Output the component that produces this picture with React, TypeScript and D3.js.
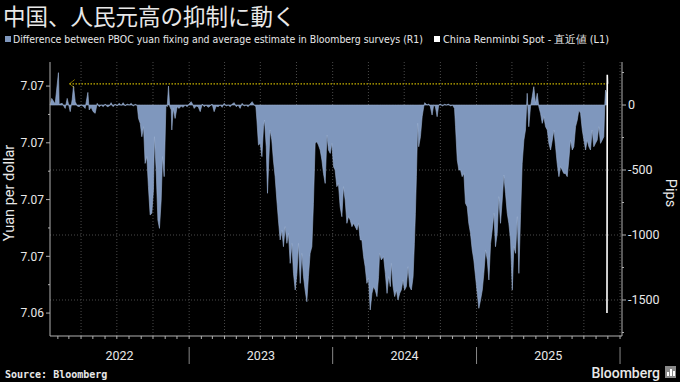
import React from "react";
import * as d3 from "d3";

// ---------- DATA ----------
// Difference between PBOC fixing and survey estimate (pips), time as decimal year
const pipsTime: number[] = [
  2022.031, 2022.042, 2022.066, 2022.089, 2022.094, 2022.115, 2022.136, 2022.150, 2022.171, 2022.185,
  2022.194, 2022.206, 2022.220, 2022.233, 2022.247, 2022.261, 2022.275, 2022.294, 2022.303, 2022.317,
  2022.331, 2022.345, 2022.359, 2022.373, 2022.387, 2022.401, 2022.415, 2022.429, 2022.443, 2022.456,
  2022.470, 2022.484, 2022.498, 2022.512, 2022.526, 2022.540, 2022.554, 2022.568, 2022.582, 2022.596,
  2022.610, 2022.624, 2022.638, 2022.647, 2022.659, 2022.670, 2022.682, 2022.693, 2022.705, 2022.716,
  2022.728, 2022.740, 2022.751, 2022.758, 2022.770, 2022.782, 2022.793, 2022.805, 2022.814, 2022.826,
  2022.838, 2022.847, 2022.856, 2022.864, 2022.875, 2022.879, 2022.889, 2022.902, 2022.916, 2022.930,
  2022.944, 2022.958, 2022.972, 2022.986, 2023.000, 2023.014, 2023.021, 2023.035, 2023.049, 2023.063,
  2023.077, 2023.091, 2023.105, 2023.118, 2023.132, 2023.146, 2023.160, 2023.174, 2023.188, 2023.202,
  2023.216, 2023.230, 2023.244, 2023.258, 2023.272, 2023.286, 2023.300, 2023.314, 2023.328, 2023.341,
  2023.355, 2023.369, 2023.383, 2023.397, 2023.411, 2023.425, 2023.439, 2023.453, 2023.465, 2023.472,
  2023.483, 2023.495, 2023.507, 2023.518, 2023.525, 2023.537, 2023.546, 2023.555, 2023.564, 2023.576,
  2023.587, 2023.599, 2023.611, 2023.622, 2023.634, 2023.646, 2023.657, 2023.669, 2023.681, 2023.692,
  2023.704, 2023.716, 2023.727, 2023.739, 2023.751, 2023.762, 2023.774, 2023.785, 2023.797, 2023.808,
  2023.820, 2023.831, 2023.843, 2023.855, 2023.866, 2023.878, 2023.890, 2023.901, 2023.913, 2023.925,
  2023.936, 2023.948, 2023.960, 2023.971, 2023.983, 2023.994, 2024.006, 2024.017, 2024.029, 2024.040,
  2024.052, 2024.064, 2024.075, 2024.087, 2024.099, 2024.110, 2024.122, 2024.134, 2024.145, 2024.157,
  2024.169, 2024.180, 2024.192, 2024.203, 2024.215, 2024.226, 2024.238, 2024.249, 2024.261, 2024.273,
  2024.284, 2024.296, 2024.308, 2024.319, 2024.326, 2024.338, 2024.354, 2024.366, 2024.378, 2024.389,
  2024.401, 2024.408, 2024.420, 2024.431, 2024.443, 2024.454, 2024.466, 2024.477, 2024.489, 2024.500,
  2024.512, 2024.524, 2024.535, 2024.547, 2024.559, 2024.568, 2024.575, 2024.582, 2024.591, 2024.598,
  2024.610, 2024.622, 2024.633, 2024.640, 2024.656, 2024.668, 2024.679, 2024.691, 2024.702, 2024.714,
  2024.726, 2024.737, 2024.749, 2024.763, 2024.777, 2024.791, 2024.805, 2024.819, 2024.833, 2024.847,
  2024.854, 2024.866, 2024.877, 2024.889, 2024.900, 2024.912, 2024.923, 2024.935, 2024.946, 2024.958,
  2024.970, 2024.981, 2024.993, 2025.005, 2025.016, 2025.028, 2025.040, 2025.051, 2025.063, 2025.075,
  2025.086, 2025.098, 2025.109, 2025.121, 2025.132, 2025.144, 2025.155, 2025.167, 2025.179, 2025.190,
  2025.202, 2025.214, 2025.225, 2025.237, 2025.249, 2025.260, 2025.272, 2025.284, 2025.295, 2025.307,
  2025.318, 2025.330, 2025.341, 2025.353, 2025.364, 2025.376, 2025.388, 2025.399, 2025.411, 2025.423,
  2025.434, 2025.446, 2025.458, 2025.469, 2025.481, 2025.493, 2025.504, 2025.516, 2025.528, 2025.539,
  2025.551, 2025.562, 2025.574, 2025.585, 2025.597, 2025.608, 2025.620, 2025.632, 2025.643, 2025.655,
  2025.667, 2025.678, 2025.690, 2025.702, 2025.713, 2025.725, 2025.737, 2025.748, 2025.760, 2025.771,
  2025.783, 2025.794, 2025.806, 2025.817, 2025.829, 2025.841, 2025.852, 2025.864, 2025.876, 2025.887,
  2025.894, 2025.899, 2025.906,
];
const pipsValues: number[] = [
  0, 51, 8, 249, 5, 13, -26, 51, -51, 44,
  146, 26, -8, -13, 0, -8, -26, 97, -38, -18,
  -51, -64, 13, -13, 0, -13, 8, -13, -8, 18,
  -13, 8, -8, 13, -3, 18, -8, 8, 0, 13,
  -8, 5, -3, -103, -141, -244, -167, -449, -397, -628,
  -846, -833, -654, -244, -500, -885, -949, -731, -397, -551,
  0, -13, 146, -8, -38, -192, -26, -103, -13, -26,
  -8, -18, 0, -13, 8, 26, 13, -26, -8, -13,
  -51, 8, -13, 0, -18, -8, 8, -51, -8, -13,
  0, -18, 13, -8, 0, -13, 8, 18, -13, 0,
  -26, 13, -8, 0, -13, 8, 26, 0, -13, -115,
  -308, -295, -397, -167, -115, -321, -679, -423, -192, -269,
  -423, -551, -731, -885, -1038, -962, -1090, -936, -1064, -987,
  -1218, -1064, -1295, -1423, -1295, -1064, -1372, -1141, -1321, -1423,
  -1513, -1321, -1141, -1090, -756, -295, -282, -308, -346, -423,
  -526, -603, -231, -346, -372, -295, -474, -500, -628, -603,
  -782, -859, -628, -731, -910, -859, -885, -936, -910, -936,
  -962, -910, -1038, -1038, -1167, -1244, -1372, -1333, -1577, -1449,
  -1397, -1423, -1474, -1321, -1141, -1192, -1167, -1295, -1449, -1321,
  -1397, -1218, -1397, -1474, -1423, -1500, -1449, -1423, -1346, -1423,
  -1397, -1244, -1397, -1423, -1321, -1064, -833, -551, -141, -321,
  -244, -90, -13, 18, 0, 8, -13, -77, 0, -13,
  -90, 0, 8, -8, 5, 0, 8, -8, 0, -26,
  -167, -423, -500, -500, -551, -526, -756, -782, -910, -987,
  -1115, -1192, -1321, -1449, -1564, -1500, -1423, -1295, -1115, -1192,
  -1346, -1064, -962, -833, -1090, -987, -705, -910, -731, -538,
  -679, -833, -910, -1038, -1423, -1090, -1141, -859, -1295, -833,
  -449, -269, -192, 90, -167, -13, 64, 141, 13, 90,
  -13, -64, -141, -90, -167, -192, -295, -346, -269, -192,
  -321, -449, -551, -474, -500, -526, -526, -551, -423, -269,
  -346, -321, -167, -115, -38, -64, -192, -269, -346, -269,
  -321, -346, -192, -321, -295, -269, -167, -295, -269, -244,
  13, 115, 90,
];

// China Renminbi spot (latest values, L1)
const spotTime: number[] = [2025.909, 2025.911, 2025.913];
const spotValues: number[] = [7.06, 7.0705, 7.0701];
const latestArrowFrom = 2022.166;

// Axis ticks
const leftTicks: number[] = [7.07, 7.0675, 7.065, 7.0625, 7.06];
const leftTickLabels: string[] = ["7.07", "7.07", "7.07", "7.07", "7.06"];
const leftMinorTicks: number[] = [7.06875, 7.06625, 7.06375, 7.06125];
const rightTicks: number[] = [0, -500, -1000, -1500];
const rightMinorTicks: number[] = [250, -250, -750, -1250, -1750];
const years: number[] = [2022, 2023, 2024, 2025];

const title = "中国、人民元高の抑制に動く";
const legend1 = "Difference between PBOC yuan fixing and average estimate in Bloomberg surveys (R1)";
const legend2 = "China Renminbi Spot - 直近値 (L1)";

// ---------- HELPERS ----------
const toDate = (t: number) => {
  const y = Math.floor(t);
  const s = new Date(y, 0, 1).getTime();
  const e = new Date(y + 1, 0, 1).getTime();
  return new Date(s + (t - y) * (e - s));
};

const W = 680, H = 382;
const M = { left: 50, right: 622, top: 62, bottom: 336 };
const AREA = "#7f97bd";
const GRID = "#4a4a4a";
const AXIS = "#b0b0b0";
const TXT = "#e8e8e8";
const FONT = "Roboto, 'Liberation Sans', sans-serif";
const NARROW = "'Liberation Sans Narrow', 'DejaVu Sans Condensed', Roboto, sans-serif";

export default function App() {
  const start = new Date(2022, 0, 12);
  const end = new Date(2026, 0, 6);
  const x = d3.scaleTime().domain([start, end]).range([M.left, M.right]);
  const yR = d3.scaleLinear().domain([-1777, 331]).range([M.bottom, M.top]);
  const yL = d3.scaleLinear().domain([7.05899, 7.07106]).range([M.bottom, M.top]);

  const pips = pipsTime.map((t, i) => ({ d: toDate(t), v: pipsValues[i] }));
  const spot = spotTime.map((t, i) => ({ d: toDate(t), v: spotValues[i] }));

  const areaGen = d3
    .area<{ d: Date; v: number }>()
    .x((p) => x(p.d))
    .y0(yR(0))
    .y1((p) => yR(p.v));
  const spotLine = d3
    .line<{ d: Date; v: number }>()
    .x((p) => x(p.d))
    .y((p) => yL(p.v));

  const months = d3.timeMonth.range(start, end);
  const quarters = months.filter((m) => m.getMonth() % 3 === 0);
  const yearBounds = d3.timeYear.range(start, new Date(2026, 0, 2));

  const latest = spot[spot.length - 1];
  const arrowX = x(toDate(latestArrowFrom));
  const ly = yL(latest.v);

  return (
    <svg
      width={W}
      height={H}
      style={{ position: "fixed", left: 0, top: 0, display: "block" }}
      xmlns="http://www.w3.org/2000/svg"
    >
      <rect x={0} y={0} width={W} height={H} fill="#000" />
      {/* Title */}
      <text x={3} y={25} fill={TXT} fontSize={22.5} fontFamily="'Noto Sans CJK JP', sans-serif">
        {title}
      </text>
      {/* Legend */}
      <rect x={5} y={36} width={6} height={6} fill={AREA} />
      <text x={13} y={43} fill={TXT} fontSize={11} fontFamily={NARROW} textLength={410} lengthAdjust="spacingAndGlyphs">
        {legend1}
      </text>
      <rect x={434} y={36} width={6} height={6} fill="#fff" />
      <text x={443} y={43} fill={TXT} fontSize={11} fontFamily={NARROW} textLength={166} lengthAdjust="spacingAndGlyphs">
        {legend2}
      </text>

      {/* Grid */}
      {quarters.map((q, i) => (
        <line key={"gq" + i} x1={x(q)} x2={x(q)} y1={M.top} y2={M.bottom} stroke={GRID} strokeWidth={1} strokeDasharray="1,2" />
      ))}
      {rightTicks.filter((t) => t !== 0).map((t) => (
        <line key={"gr" + t} x1={M.left} x2={M.right} y1={yR(t)} y2={yR(t)} stroke={GRID} strokeWidth={1} strokeDasharray="1,2" />
      ))}

      {/* Area */}
      <path d={areaGen(pips) || ""} fill={AREA} stroke="#9ab0d2" strokeWidth={0.6} strokeLinejoin="round" />

      {/* Latest value line with arrow */}
      <line x1={arrowX} x2={x(latest.d)} y1={ly} y2={ly} stroke="#c9b400" strokeWidth={1.2} strokeDasharray="1.5,1.5" />
      <path d={`M${arrowX + 5},${ly - 4} L${arrowX},${ly} L${arrowX + 5},${ly + 4}`} fill="none" stroke="#c9b400" strokeWidth={1} strokeDasharray="1.5,1" />

      {/* Spot line */}
      <path d={spotLine(spot) || ""} fill="none" stroke="#ffffff" strokeWidth={1.6} />

      {/* Left axis */}
      <line x1={M.left} x2={M.left} y1={M.top} y2={M.bottom} stroke={AXIS} />
      {leftTicks.map((t, i) => (
        <g key={"lt" + i}>
          <line x1={M.left - 4} x2={M.left} y1={yL(t)} y2={yL(t)} stroke={AXIS} />
          <text x={M.left - 6} y={yL(t)} dy="0.35em" textAnchor="end" fill={TXT} fontSize={12} fontFamily={FONT}>
            {leftTickLabels[i]}
          </text>
        </g>
      ))}
      {leftMinorTicks.map((t, i) => (
        <line key={"lm" + i} x1={M.left - 2} x2={M.left} y1={yL(t)} y2={yL(t)} stroke={AXIS} />
      ))}
      <text
        transform={`translate(9,${(M.top + M.bottom) / 2 - 6}) rotate(-90)`}
        textAnchor="middle"
        dy="0.35em"
        fill={TXT}
        fontSize={14.5}
        fontFamily={FONT}
      >
        Yuan per dollar
      </text>

      {/* Right axis */}
      <line x1={M.right} x2={M.right} y1={M.top} y2={M.bottom} stroke={AXIS} />
      {rightTicks.map((t) => (
        <g key={"rt" + t}>
          <line x1={M.right} x2={M.right + 4} y1={yR(t)} y2={yR(t)} stroke={AXIS} />
          <text x={M.right + 6} y={yR(t)} dy="0.35em" fill={TXT} fontSize={12.5} fontFamily={FONT}>
            {t === 0 ? "0" : "-" + Math.abs(t)}
          </text>
        </g>
      ))}
      {rightMinorTicks.map((t) => (
        <line key={"rm" + t} x1={M.right} x2={M.right + 2} y1={yR(t)} y2={yR(t)} stroke={AXIS} />
      ))}
      <text
        transform={`translate(671,${(M.top + M.bottom) / 2 - 6}) rotate(90)`}
        textAnchor="middle"
        dy="0.35em"
        fill={TXT}
        fontSize={14.5}
        fontFamily={FONT}
      >
        Pips
      </text>

      {/* Bottom axis */}
      <line x1={M.left} x2={M.right} y1={M.bottom} y2={M.bottom} stroke={AXIS} />
      {months.map((m, i) => (
        <line key={"mt" + i} x1={x(m)} x2={x(m)} y1={M.bottom} y2={M.bottom + 3} stroke={AXIS} />
      ))}
      {yearBounds.map((yb, i) => (
        <line key={"yb" + i} x1={x(yb)} x2={x(yb)} y1={347} y2={364} stroke="#888" />
      ))}
      {years.map((yr) => {
        const a = Math.max(x(new Date(yr, 0, 1)), M.left);
        const b = Math.min(x(new Date(yr + 1, 0, 1)), M.right);
        return (
          <text key={"y" + yr} x={(a + b) / 2} y={356} dy="0.35em" textAnchor="middle" fill={TXT} fontSize={12.5} fontFamily={FONT}>
            {yr}
          </text>
        );
      })}

      {/* Footer */}
      <text x={5} y={378} fill={TXT} fontSize={10} fontWeight="bold" fontFamily="'DejaVu Sans Mono', monospace">
        Source: Bloomberg
      </text>
      <text x={660} y={378} textAnchor="end" fill={TXT} fontSize={14} fontWeight={500} fontFamily={FONT}>
        Bloomberg
      </text>
      <rect x={665} y={366} width={11} height={12} fill="#8a8a8a" />
      <rect x={667} y={372} width={2} height={4} fill="#fff" />
      <rect x={670} y={369} width={2} height={7} fill="#fff" />
      <rect x={673} y={371} width={2} height={5} fill="#fff" />
    </svg>
  );
}
